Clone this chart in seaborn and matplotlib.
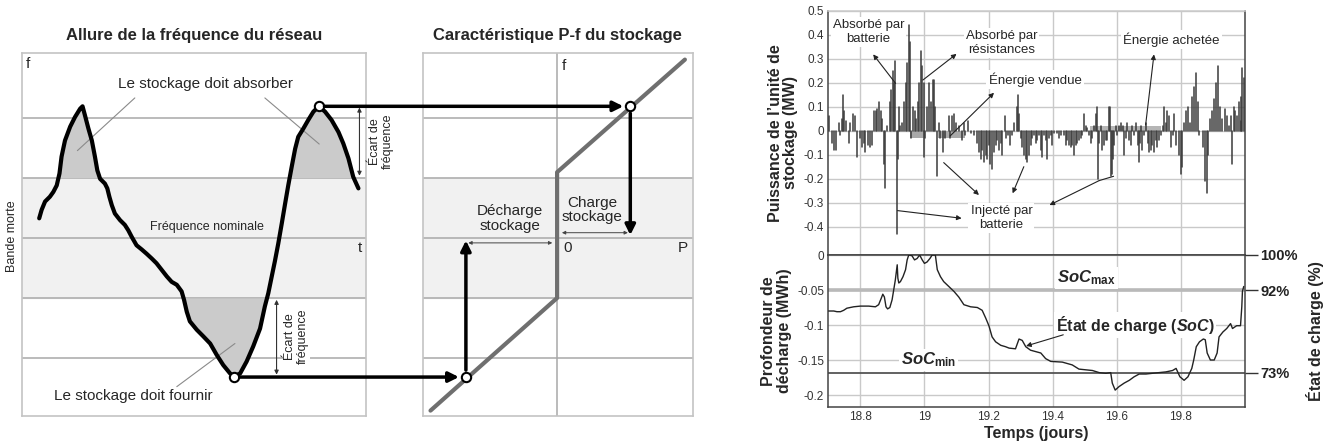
import numpy as np
import pandas as pd
import matplotlib
matplotlib.use("Agg")
import matplotlib.pyplot as plt
import seaborn as sns
from matplotlib.patches import ConnectionPatch

# ---------------- schematic: grid frequency ----------------
freq_t = [0.50, 0.57, 0.67, 0.81, 0.91, 1.01, 1.09, 1.15, 1.25, 1.40, 1.54, 1.69, 1.76,
          1.83, 1.93, 2.03, 2.12, 2.19, 2.27, 2.41, 2.48, 2.54, 2.61, 2.70, 2.85, 2.99,
          3.09, 3.19, 3.33, 3.48, 3.62, 3.77, 3.91, 4.06, 4.21, 4.35, 4.50, 4.64, 4.71,
          4.79, 4.88, 5.08, 5.27, 5.47, 5.66, 5.85, 6.05, 6.17, 6.34, 6.53, 6.72, 6.92,
          7.06, 7.16, 7.26, 7.35, 7.45, 7.55, 7.65, 7.74, 7.84, 7.94, 8.03, 8.18, 8.32,
          8.47, 8.63, 8.81, 9.00, 9.20, 9.34, 9.49, 9.63, 9.78]
freq_f = [0.33, 0.47, 0.61, 0.69, 0.77, 0.88, 1.08, 1.36, 1.63, 1.86, 2.02, 2.16, 2.20,
          2.05, 1.83, 1.63, 1.36, 1.13, 0.99, 0.91, 0.83, 0.69, 0.55, 0.41, 0.30, 0.22,
          0.13, 0.02, -0.12, -0.19, -0.26, -0.34, -0.42, -0.53, -0.64, -0.73, -0.78, -0.89, -1.03,
          -1.23, -1.39, -1.53, -1.64, -1.76, -1.95, -2.12, -2.26, -2.31, -2.26, -2.06, -1.81, -1.51,
          -1.14, -0.92, -0.64, -0.39, -0.09, 0.24, 0.58, 0.88, 1.19, 1.49, 1.69, 1.83, 1.97,
          2.11, 2.20, 2.11, 1.97, 1.77, 1.58, 1.33, 1.02, 0.83]
band_levels = [-2, -1, 0, 1, 2]
dead_band = [-1, 1]
peak_t, peak_f = 8.63, 2.20
trough_t, trough_f = 6.17, -2.32

# ---------------- schematic: P-f characteristic ----------------
char_P = [-2.11, 0.0, 0.0, 2.13]
char_f = [-2.88, -1.0, 1.1, 2.98]
P_charge = 1.22
P_discharge = -1.52

# ---------------- storage power (MW) ----------------
power_t = [18.701, 18.711, 18.719, 18.725, 18.732, 18.738, 18.743, 18.746, 18.750, 18.756,
           18.764, 18.769, 18.777, 18.784, 18.790, 18.798, 18.805, 18.810, 18.816, 18.823,
           18.829, 18.836, 18.844, 18.848, 18.852, 18.857, 18.863, 18.868, 18.875, 18.877,
           18.883, 18.892, 18.896, 18.901, 18.906, 18.909, 18.915, 18.917, 18.920, 18.925,
           18.930, 18.935, 18.941, 18.946, 18.951, 18.954, 18.958, 18.965, 18.969, 18.975,
           18.979, 18.983, 18.988, 18.993, 18.998, 19.000, 19.003, 19.008, 19.014, 19.019,
           19.027, 19.031, 19.034, 19.040, 19.045, 19.050, 19.058, 19.063, 19.076, 19.081,
           19.086, 19.092, 19.097, 19.107, 19.118, 19.123, 19.128, 19.135, 19.144, 19.154,
           19.165, 19.170, 19.175, 19.180, 19.185, 19.191, 19.196, 19.201, 19.206, 19.211,
           19.217, 19.222, 19.227, 19.232, 19.238, 19.243, 19.250, 19.253, 19.260, 19.267,
           19.274, 19.279, 19.288, 19.292, 19.296, 19.300, 19.305, 19.310, 19.316, 19.321,
           19.326, 19.331, 19.336, 19.342, 19.347, 19.352, 19.357, 19.363, 19.368, 19.373,
           19.378, 19.383, 19.389, 19.394, 19.399, 19.404, 19.415, 19.420, 19.425, 19.435,
           19.441, 19.446, 19.451, 19.456, 19.461, 19.467, 19.472, 19.477, 19.482, 19.487,
           19.493, 19.498, 19.503, 19.508, 19.514, 19.519, 19.524, 19.529, 19.534, 19.537,
           19.542, 19.546, 19.550, 19.555, 19.560, 19.566, 19.571, 19.576, 19.579, 19.581,
           19.584, 19.588, 19.592, 19.597, 19.602, 19.607, 19.613, 19.618, 19.623, 19.628,
           19.633, 19.639, 19.644, 19.649, 19.654, 19.659, 19.665, 19.668, 19.671, 19.675,
           19.680, 19.685, 19.691, 19.696, 19.701, 19.706, 19.711, 19.717, 19.722, 19.727,
           19.732, 19.738, 19.743, 19.748, 19.753, 19.758, 19.764, 19.769, 19.774, 19.779,
           19.786, 19.795, 19.801, 19.805, 19.810, 19.816, 19.822, 19.828, 19.834, 19.840,
           19.848, 19.852, 19.858, 19.868, 19.876, 19.880, 19.885, 19.892, 19.897, 19.904,
           19.910, 19.916, 19.921, 19.929, 19.937, 19.943, 19.949, 19.955, 19.961, 19.965,
           19.970, 19.975, 19.980, 19.986, 19.989, 19.992, 19.996]
power_v = [0.06, -0.05, -0.08, -0.08, 0.03, -0.02, 0.05, 0.15, 0.08, 0.04,
           -0.05, 0.03, 0.07, 0.06, -0.11, -0.03, -0.07, -0.05, -0.09, -0.06,
           -0.07, -0.06, 0.08, 0.08, 0.09, 0.12, 0.08, 0.05, -0.14, -0.24,
           0.02, 0.12, 0.17, 0.25, 0.20, 0.29, -0.43, -0.12, 0.10, 0.02,
           0.03, 0.12, 0.20, 0.28, 0.44, 0.37, -0.03, 0.10, 0.08, 0.05,
           0.12, 0.20, 0.33, 0.27, 0.20, -0.11, -0.03, 0.10, 0.20, 0.12,
           0.21, 0.21, 0.10, -0.19, 0.03, -0.03, -0.09, -0.03, 0.06, -0.03,
           0.06, 0.07, 0.03, 0.02, -0.04, 0.03, -0.02, 0.04, -0.01, -0.02,
           -0.05, -0.09, -0.12, -0.08, -0.13, -0.10, -0.12, -0.06, -0.14, -0.16,
           -0.09, -0.06, -0.04, -0.08, -0.05, -0.10, 0.06, -0.03, -0.02, -0.06,
           -0.02, 0.03, 0.10, 0.15, 0.07, -0.03, -0.07, -0.10, -0.12, -0.13,
           -0.10, -0.06, -0.03, -0.02, -0.05, -0.04, -0.02, -0.08, -0.11, -0.02,
           -0.04, -0.12, -0.03, -0.02, -0.06, -0.01, -0.01, -0.03, -0.02, -0.02,
           -0.06, -0.04, -0.06, -0.07, -0.06, -0.10, -0.06, -0.05, -0.04, -0.03,
           -0.02, 0.07, 0.02, 0.01, -0.02, -0.05, -0.03, 0.02, 0.07, 0.10,
           -0.20, -0.05, 0.02, -0.08, -0.06, -0.04, -0.04, 0.10, 0.10, -0.19,
           -0.18, -0.12, -0.06, 0.02, -0.02, 0.02, 0.03, 0.02, -0.10, -0.03,
           0.03, -0.04, -0.06, 0.02, -0.02, 0.03, -0.06, -0.13, -0.05, 0.02,
           -0.08, -0.02, 0.03, -0.05, -0.09, -0.08, -0.06, -0.09, -0.04, -0.07,
           -0.04, -0.02, 0.02, 0.10, 0.03, 0.08, 0.06, -0.07, -0.02, 0.07,
           -0.06, -0.10, -0.18, -0.15, 0.03, 0.08, 0.10, 0.03, 0.14, 0.18,
           0.24, 0.12, -0.02, -0.07, -0.21, -0.26, -0.10, 0.05, 0.08, 0.13,
           0.20, 0.27, 0.10, 0.05, 0.09, 0.06, 0.02, 0.06, -0.14, 0.10,
           0.08, 0.06, 0.12, 0.04, 0.14, 0.26, 0.22]
vendue_starts = [18.956, 19.043]
vendue_ends = [19.003, 19.128]
vendue_level = -0.03
achetee_start, achetee_end, achetee_level = 19.517, 19.737, 0.02

# ---------------- depth of discharge (MWh) ----------------
soc_t = [18.701, 18.717, 18.727, 18.738, 18.748, 18.758, 18.779, 18.800, 18.826, 18.847,
         18.857, 18.865, 18.870, 18.875, 18.880, 18.885, 18.892, 18.899, 18.904, 18.909,
         18.915, 18.917, 18.920, 18.925, 18.933, 18.941, 18.946, 18.951, 18.961, 18.969,
         18.977, 18.985, 18.993, 19.000, 19.008, 19.017, 19.024, 19.034, 19.040, 19.050,
         19.060, 19.076, 19.092, 19.107, 19.123, 19.144, 19.165, 19.180, 19.191, 19.201,
         19.211, 19.222, 19.238, 19.253, 19.264, 19.284, 19.295, 19.305, 19.316, 19.331,
         19.347, 19.363, 19.378, 19.394, 19.430, 19.461, 19.482, 19.503, 19.524, 19.545,
         19.566, 19.581, 19.586, 19.595, 19.607, 19.623, 19.639, 19.654, 19.670, 19.691,
         19.711, 19.732, 19.753, 19.774, 19.785, 19.797, 19.810, 19.822, 19.834, 19.840,
         19.848, 19.858, 19.870, 19.876, 19.882, 19.892, 19.904, 19.913, 19.919, 19.931,
         19.943, 19.955, 19.961, 19.974, 19.986, 19.990, 19.992, 19.996]
soc_dod = [-0.080, -0.080, -0.081, -0.081, -0.079, -0.076, -0.074, -0.073, -0.073, -0.074,
           -0.071, -0.062, -0.056, -0.060, -0.074, -0.077, -0.075, -0.064, -0.050, -0.036,
           -0.014, -0.033, -0.040, -0.038, -0.031, -0.021, -0.007, 0.0, -0.001, -0.007,
           -0.005, 0.0, -0.007, -0.012, -0.010, -0.005, 0.0, 0.0, -0.021, -0.031,
           -0.038, -0.045, -0.052, -0.060, -0.071, -0.074, -0.075, -0.079, -0.090, -0.101,
           -0.117, -0.124, -0.129, -0.131, -0.133, -0.134, -0.120, -0.122, -0.131, -0.136,
           -0.138, -0.140, -0.148, -0.152, -0.153, -0.157, -0.163, -0.164, -0.165, -0.168,
           -0.169, -0.168, -0.183, -0.193, -0.188, -0.183, -0.179, -0.174, -0.170, -0.170,
           -0.169, -0.168, -0.167, -0.165, -0.162, -0.174, -0.179, -0.174, -0.162, -0.150,
           -0.131, -0.124, -0.120, -0.121, -0.140, -0.150, -0.150, -0.140, -0.117, -0.110,
           -0.105, -0.098, -0.105, -0.101, -0.101, -0.074, -0.052, -0.045]
soc_max_dod = -0.05
soc_min_dod = -0.168
soc_pct_ticks = [0.0, -0.05, -0.168]
soc_pct_labels = ["100%", "92%", "73%"]

power_yticks = [0.5, 0.4, 0.3, 0.2, 0.1, 0.0, -0.1, -0.2, -0.3, -0.4]
power_yticklabels = ["0.5", "0.4", "0.3", "0.2", "0.1", "0", "-0.1", "-0.2", "-0.3", "-0.4"]
dod_yticks = [0.0, -0.05, -0.1, -0.15, -0.2]
dod_yticklabels = ["0", "-0.05", "-0.1", "-0.15", "-0.2"]
time_ticks = [18.8, 19.0, 19.2, 19.4, 19.6, 19.8]
time_ticklabels = ["18.8", "19", "19.2", "19.4", "19.6", "19.8"]

# ---------------- style ----------------
sns.set_theme(style="white")
plt.rcParams["font.family"] = ["Liberation Sans", "DejaVu Sans"]
plt.rcParams["axes.unicode_minus"] = False
plt.rcParams["mathtext.fontset"] = "custom"
plt.rcParams["mathtext.rm"] = "Liberation Sans"
plt.rcParams["mathtext.it"] = "Liberation Sans:italic:bold"
plt.rcParams["mathtext.bf"] = "Liberation Sans:bold"

W, H = 1330, 447
fig = plt.figure(figsize=(W / 100, H / 100), dpi=100)

def fax(x0, y0, x1, y1):
    return fig.add_axes([x0 / W, 1 - y1 / H, (x1 - x0) / W, (y1 - y0) / H])

ax1 = fax(22, 53, 366, 416)
ax2 = fax(422.7, 53, 692.7, 416)
ax3 = fax(828.3, 10.7, 1245, 255)
ax4 = fax(828.3, 255, 1245, 406.7)

FY = (-2.97, 3.09)
GRID = "#a8a8a8"
for ax in (ax1, ax2):
    ax.set_ylim(*FY)
    ax.set_xticks([]); ax.set_yticks([])
    ax.axhspan(dead_band[0], dead_band[1], color="#f1f1f1", zorder=0)
    for lv in band_levels:
        ax.axhline(lv, color=GRID, lw=1.1, zorder=1)
    for s in ax.spines.values():
        s.set_color("#c4c4c4"); s.set_linewidth(1.2)
ax1.set_xlim(0, 10)
ax2.set_xlim(-2.24, 2.26)

# left panel
ft = np.array(freq_t); ff = np.array(freq_f)
ax1.fill_between(ft, ff, dead_band[1], where=ff > dead_band[1], interpolate=True,
                 color="#cbcbcb", lw=0, zorder=2)
ax1.fill_between(ft, ff, dead_band[0], where=ff < dead_band[0], interpolate=True,
                 color="#cbcbcb", lw=0, zorder=2)
sns.lineplot(x=freq_t, y=freq_f, ax=ax1, sort=False, estimator=None, color="black",
             lw=3, zorder=4, solid_joinstyle="round", solid_capstyle="round")
ax1.set_title("Allure de la fréquence du réseau", fontweight="bold", fontsize=12, pad=9)
ax1.text(0.12, 2.9, "f", fontsize=11, ha="left", va="center")
ax1.text(9.83, -0.17, "t", fontsize=11, ha="center", va="center")
ax1.text(5.32, 2.57, "Le stockage doit absorber", fontsize=11, ha="center", va="center")
ax1.text(3.24, -2.64, "Le stockage doit fournir", fontsize=11, ha="center", va="center")
ax1.text(5.37, 0.19, "Fréquence nominale", fontsize=9, ha="center", va="center")
ax1.text(-0.29, 0.03, "Bande morte", fontsize=9, rotation=90, ha="center", va="center",
         clip_on=False)
ax1.plot([3.28, 1.61], [2.34, 1.46], color="#8a8a8a", lw=0.8, zorder=3)
ax1.plot([7.06, 8.64], [2.34, 1.57], color="#8a8a8a", lw=0.8, zorder=3)
ax1.plot([4.50, 6.19], [-2.48, -1.76], color="#8a8a8a", lw=0.8, zorder=3)
# frequency deviation markers
ax1.annotate("", xy=(9.81, 2.18), xytext=(9.81, 1.04),
             arrowprops=dict(arrowstyle="<|-|>", lw=0.8, color="#333", mutation_scale=6,
                             shrinkA=0, shrinkB=0))
ax1.text(10.46, 1.61, "Écart de\nfréquence", fontsize=9, rotation=90, ha="center",
         va="center", clip_on=False, linespacing=1.1)
ax1.annotate("", xy=(7.40, -1.03), xytext=(7.40, -2.28),
             arrowprops=dict(arrowstyle="<|-|>", lw=0.8, color="#333", mutation_scale=6,
                             shrinkA=0, shrinkB=0))
ax1.text(7.98, -1.64, "Écart de\nfréquence", fontsize=9, rotation=90, ha="center",
         va="center", linespacing=1.1, zorder=3,
         bbox=dict(facecolor="white", edgecolor="none", pad=1))
sns.scatterplot(x=[peak_t, trough_t], y=[peak_f, trough_f], ax=ax1, s=45,
                facecolor="white", edgecolor="black", linewidth=1.5, zorder=7)

# middle panel
ax2.axvline(0, color=GRID, lw=1.1, zorder=1)
sns.lineplot(x=char_P, y=char_f, ax=ax2, sort=False, estimator=None, color="#6f6f6f",
             lw=3, zorder=4)
ax2.set_title("Caractéristique P-f du stockage", fontweight="bold", fontsize=12, pad=9)
ax2.text(0.08, 2.88, "f", fontsize=11, ha="left", va="center")
ax2.text(0.17, -0.17, "0", fontsize=11, ha="center", va="center")
ax2.text(2.1, -0.17, "P", fontsize=11, ha="center", va="center")
ax2.text(-0.79, 0.33, "Décharge\nstockage", fontsize=11, ha="center", va="center",
         linespacing=1.05)
ax2.text(0.59, 0.47, "Charge\nstockage", fontsize=11, ha="center", va="center",
         linespacing=1.05)
ax2.annotate("", xy=(0.08, 0.09), xytext=(P_charge - 0.04, 0.09),
             arrowprops=dict(arrowstyle="<|-|>", lw=0.7, color="#444", mutation_scale=5,
                             shrinkA=0, shrinkB=0))
ax2.annotate("", xy=(P_discharge + 0.04, -0.08), xytext=(-0.08, -0.08),
             arrowprops=dict(arrowstyle="<|-|>", lw=0.7, color="#444", mutation_scale=5,
                             shrinkA=0, shrinkB=0))
ax2.annotate("", xy=(P_charge, 0.05), xytext=(P_charge, peak_f),
             arrowprops=dict(arrowstyle="-|>", lw=2.5, color="black", mutation_scale=15,
                             shrinkA=5, shrinkB=0), zorder=6)
ax2.annotate("", xy=(P_discharge, -0.04), xytext=(P_discharge, trough_f),
             arrowprops=dict(arrowstyle="-|>", lw=2.5, color="black", mutation_scale=15,
                             shrinkA=5, shrinkB=0), zorder=6)
sns.scatterplot(x=[P_charge, P_discharge], y=[peak_f, trough_f], ax=ax2, s=45,
                facecolor="white", edgecolor="black", linewidth=1.5, zorder=7)
for (ta, fa, pb) in [(peak_t, peak_f, P_charge), (trough_t, trough_f, P_discharge)]:
    con = ConnectionPatch(xyA=(ta, fa), coordsA=ax1.transData, xyB=(pb, fa),
                          coordsB=ax2.transData, arrowstyle="-|>", mutation_scale=15,
                          lw=2.5, color="black", shrinkA=4, shrinkB=5, zorder=6)
    fig.add_artist(con)

# ---------------- right: power ----------------
TICKC = "#333333"
for ax in (ax3, ax4):
    ax.set_xlim(18.7, 20.0)
    ax.set_xticks(time_ticks)
    ax.grid(True, color="#c9c9c9", lw=1)
    ax.set_axisbelow(True)
    for s in ax.spines.values():
        s.set_color("#444"); s.set_linewidth(1.1)
    ax.tick_params(length=0, labelsize=8.5, colors=TICKC, pad=3)

ax3.set_ylim(-0.518, 0.5)
ax3.set_yticks(power_yticks, power_yticklabels)
ax3.set_xticklabels([])
ax3.spines["top"].set_color("#c9c9c9")
for s0, s1 in zip(vendue_starts, vendue_ends):
    ax3.fill_between([s0, s1], [vendue_level] * 2, 0, color="#a9a9a9", lw=0, zorder=2)
ax3.fill_between([achetee_start, achetee_end], [achetee_level] * 2, 0, color="#b5b5b5",
                 lw=0, zorder=2)
stems = pd.DataFrame({
    "t": np.repeat(power_t, 2),
    "v": np.column_stack([np.zeros(len(power_v)), power_v]).ravel(),
    "id": np.repeat(np.arange(len(power_t)), 2),
})
sns.lineplot(data=stems, x="t", y="v", units="id", estimator=None, ax=ax3,
             color="#3a3a3a", lw=1.1, zorder=3)
ax3.set_xlabel("")
ax3.set_ylabel("Puissance de l’unité de\nstockage (MW)", fontweight="bold",
               fontsize=11.5, linespacing=1.05)

arrow_kw = dict(arrowstyle="-|>", lw=0.8, color="#222", mutation_scale=7, shrinkA=0,
                shrinkB=0)
box = dict(facecolor="white", edgecolor="none", pad=1.5)
ann_fs = 9.5
ax3.text(18.825, 0.41, "Absorbé par\nbatterie", fontsize=ann_fs, ha="center",
         va="center", bbox=box, zorder=5)
ax3.annotate("", xy=(18.84, 0.318), xytext=(18.91, 0.197), arrowprops=arrow_kw, zorder=5)
ax3.text(19.24, 0.364, "Absorbé par\nrésistances", fontsize=ann_fs, ha="center",
         va="center", bbox=box, zorder=5)
ax3.annotate("", xy=(19.10, 0.32), xytext=(18.995, 0.211), arrowprops=arrow_kw, zorder=5)
ax3.text(19.345, 0.214, "Énergie vendue", fontsize=ann_fs, ha="center", va="center",
         bbox=box, zorder=5)
ax3.annotate("", xy=(19.217, 0.158), xytext=(19.08, -0.022), arrowprops=arrow_kw, zorder=5)
ax3.text(19.77, 0.38, "Énergie achetée", fontsize=ann_fs, ha="center", va="center",
         bbox=box, zorder=5)
ax3.annotate("", xy=(19.716, 0.318), xytext=(19.69, 0.024), arrowprops=arrow_kw, zorder=5)
ax3.text(19.24, -0.365, "Injecté par\nbatterie", fontsize=ann_fs, ha="center",
         va="center", bbox=box, zorder=5)
ax3.annotate("", xy=(19.116, -0.365), xytext=(18.916, -0.333), arrowprops=arrow_kw, zorder=5)
ax3.annotate("", xy=(19.17, -0.268), xytext=(19.06, -0.133), arrowprops=arrow_kw, zorder=5)
ax3.annotate("", xy=(19.275, -0.261), xytext=(19.31, -0.15), arrowprops=arrow_kw, zorder=5)
ax3.annotate("", xy=(19.39, -0.31), xytext=(19.545, -0.208), arrowprops=arrow_kw, zorder=5)
ax3.plot([19.545, 19.59], [-0.208, -0.19], color="#222", lw=0.8, zorder=5)

# ---------------- right: depth of discharge ----------------
ax4.set_ylim(-0.2167, 0.0)
ax4.set_yticks(dod_yticks, dod_yticklabels)
ax4.set_xticklabels(time_ticklabels)
ax4.axhline(soc_max_dod, color="#b9b9b9", lw=2.6, zorder=1)
ax4.axhline(soc_min_dod, color="#555555", lw=1.3, zorder=1)
sns.lineplot(x=soc_t, y=soc_dod, ax=ax4, estimator=None, color="#222", lw=1.0, zorder=3)
ax4.set_xlabel("Temps (jours)", fontweight="bold", fontsize=11.5, labelpad=2)
ax4.set_ylabel("Profondeur de\ndécharge (MWh)", fontweight="bold", fontsize=11.5,
               linespacing=1.05)
ax4.text(19.505, -0.033, r"$\mathit{SoC}_{\mathbf{max}}$", fontsize=12, ha="center",
         va="center", bbox=box, zorder=5)
ax4.text(19.013, -0.150, r"$\mathit{SoC}_{\mathbf{min}}$", fontsize=12, ha="center",
         va="center", bbox=box, zorder=5)
ax4.text(19.657, -0.100, r"État de charge ($\mathit{SoC}$)", fontsize=11.5,
         fontweight="bold", ha="center", va="center", bbox=box, zorder=5)
ax4.annotate("", xy=(19.317, -0.130), xytext=(19.433, -0.114), arrowprops=arrow_kw, zorder=5)

ax4r = ax4.twinx()
ax4r.set_ylim(ax4.get_ylim())
ax4r.set_yticks(soc_pct_ticks, soc_pct_labels)
ax4r.tick_params(axis="y", length=9, width=1, color="#333", labelsize=10.5, pad=2,
                 labelcolor="#222")
for lbl in ax4r.get_yticklabels():
    lbl.set_fontweight("bold")
ax4r.set_ylabel("État de charge (%)", fontweight="bold", fontsize=11.5, labelpad=6)
ax4r.grid(False)
for s in ax4r.spines.values():
    s.set_visible(False)

fig.savefig("out.png", dpi=100)
